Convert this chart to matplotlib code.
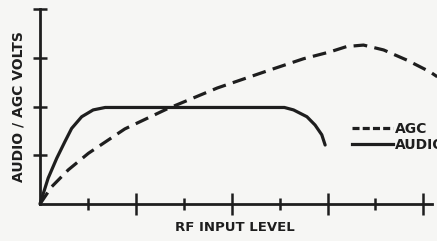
import matplotlib
matplotlib.use("Agg")
import matplotlib.pyplot as plt
from matplotlib.lines import Line2D

# Data
agc_x = [0, 0.24, 0.59, 1.01, 1.42, 1.77, 2.65, 3.70, 4.80, 5.50, 6.05, 6.40, 6.75, 7.17, 7.66, 8.14, 8.29]
agc_y = [0, 0.35, 0.70, 1.04, 1.31, 1.54, 1.95, 2.38, 2.75, 2.98, 3.12, 3.23, 3.26, 3.16, 2.95, 2.71, 2.61]
audio_x = [0, 0.17, 0.35, 0.52, 0.66, 0.87, 1.11, 1.36, 1.57, 3.0, 4.5, 5.10, 5.29, 5.57, 5.74, 5.88, 5.95]
audio_y = [0, 0.53, 0.94, 1.28, 1.55, 1.79, 1.93, 1.98, 1.98, 1.98, 1.98, 1.98, 1.93, 1.79, 1.62, 1.42, 1.21]
x_major = [2, 4, 6, 8]
x_minor = [1, 3, 5, 7]
y_ticks = [1, 2, 3, 4]
labels = ["AGC", "AUDIO"]
xlabel = "RF INPUT LEVEL"
ylabel = "AUDIO / AGC VOLTS"

FONT = ["Liberation Sans Narrow", "DejaVu Sans"]
INK = "#1e1e1e"
BG = "#f6f6f4"

fig = plt.figure(figsize=(4.37, 2.41), dpi=100, facecolor=BG)
ax = fig.add_axes([40/437, 37/241, 392/437, 195/241])
ax.set_facecolor(BG)
ax.set_xlim(0, 8.18)
ax.set_ylim(0, 4)

lw = 2.3
ax.plot(agc_x, agc_y, color=INK, lw=lw, dashes=(4.3, 2.3), clip_on=False,
        solid_capstyle="butt", dash_capstyle="butt", dash_joinstyle="round")
ax.plot(audio_x, audio_y, color=INK, lw=lw, clip_on=False,
        solid_joinstyle="round", solid_capstyle="round")

for s in ["top", "right"]:
    ax.spines[s].set_visible(False)
for s in ["left", "bottom"]:
    ax.spines[s].set_linewidth(2.0)
    ax.spines[s].set_color(INK)

ax.set_xticks(x_major)
ax.set_xticks(x_minor, minor=True)
ax.set_yticks(y_ticks)
ax.tick_params(axis="x", which="major", direction="inout", length=16, width=1.8,
               color=INK, labelbottom=False)
ax.tick_params(axis="x", which="minor", direction="inout", length=9, width=1.8,
               color=INK)
ax.tick_params(axis="y", which="major", direction="inout", length=10, width=1.8,
               color=INK, labelleft=False)

ax.set_xlabel(xlabel, family=FONT, fontweight="bold", fontsize=9.5, color=INK, va="center")
ax.xaxis.set_label_coords(0.497, -0.123)
ax.set_ylabel(ylabel, family=FONT, fontweight="bold", fontsize=10, color=INK, va="center")
ax.yaxis.set_label_coords(-0.056, 0.5)

handles = [Line2D([], [], color=INK, lw=lw, dashes=(2.2, 1.0)),
           Line2D([], [], color=INK, lw=lw)]
leg = ax.legend(handles, labels, loc="upper left", bbox_to_anchor=(0.795, 0.42),
                frameon=False, handlelength=3.0, handletextpad=0.15,
                labelspacing=0.15, borderpad=0, borderaxespad=0,
                prop={"family": FONT, "weight": "bold", "size": 10})
for t in leg.get_texts():
    t.set_color(INK)

fig.savefig("out.png", dpi=100, facecolor=BG)
